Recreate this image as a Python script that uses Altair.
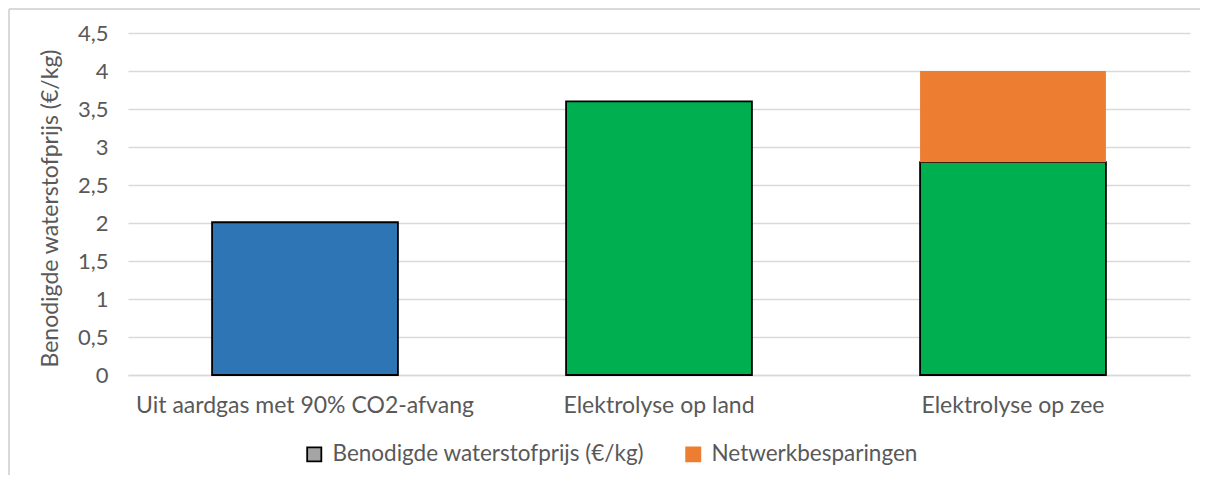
import altair as alt
import pandas as pd

categories = ["Uit aardgas met 90% CO2-afvang", "Elektrolyse op land", "Elektrolyse op zee"]
base_values = [2.01, 3.6, 2.8]
savings_values = [0.0, 0.0, 1.2]
series = ["Benodigde waterstofprijs (€/kg)", "Netwerkbesparingen"]
y_ticks = [0, 0.5, 1, 1.5, 2, 2.5, 3, 3.5, 4, 4.5]

BLUE = "#2e75b6"
GREEN = "#00b050"
ORANGE = "#ed7d31"
GREY_LEG = "#a5a5a5"
TEXT = "#595959"
GRID = "#d9d9d9"
FONT = "Lato"

df = pd.DataFrame({
    "cat": categories,
    "base": base_values,
    "sav": savings_values,
})
df["top"] = df["base"] + df["sav"]
df_sav = df[df["sav"] > 0]
leg = pd.DataFrame({"series": series})

W, H = 1062, 342

x_axis = alt.Axis(title=None, labelFontSize=23, labelColor=TEXT, labelFont=FONT,
                  labelPadding=19, ticks=False, domainColor=GRID, domainWidth=1.5,
                  labelAngle=0, labelLimit=0)
y_axis = alt.Axis(values=y_ticks, title="Benodigde waterstofprijs (€/kg)",
                  labelExpr="replace(format(datum.value, '.1~f'), '.', ',')",
                  labelFontSize=22, labelColor=TEXT, labelFont=FONT,
                  labelPadding=20, ticks=False, domain=False, labelOverlap=False,
                  grid=True, gridColor=GRID, gridWidth=1.5,
                  titleFontSize=23, titleFont=FONT, titleColor=TEXT,
                  titleFontWeight="normal", titlePadding=15, titleY=175)
x_scale = alt.Scale(paddingInner=0.475, paddingOuter=0.2375)
y_scale = alt.Scale(domain=[0, 4.5], nice=False)

base = alt.Chart(df).mark_bar(stroke="black", strokeWidth=1.8).encode(
    x=alt.X("cat:N", sort=categories, scale=x_scale, axis=x_axis),
    y=alt.Y("base:Q", scale=y_scale, axis=y_axis),
    fill=alt.Fill("cat:N", scale=alt.Scale(domain=categories, range=[BLUE, GREEN, GREEN]),
                  legend=None),
)

sav = alt.Chart(df_sav).mark_bar(color=ORANGE).encode(
    x=alt.X("cat:N", sort=categories, scale=x_scale, axis=x_axis),
    y=alt.Y("base:Q", scale=y_scale, axis=y_axis),
    y2="top:Q",
)

legend_kw = dict(orient="none", legendX=175, legendY=410, direction="horizontal",
                 title=None, labelFontSize=22.5, labelColor=TEXT, labelFont=FONT,
                 symbolType="square", symbolSize=200, symbolOpacity=1, labelLimit=0,
                 symbolStrokeWidth=1.8, columnPadding=37, labelOffset=7)

legend_layer = alt.Chart(leg).mark_square(opacity=0).encode(
    color=alt.Color("series:N", scale=alt.Scale(domain=series, range=[GREY_LEG, ORANGE]),
                    legend=alt.Legend(**legend_kw)),
    stroke=alt.Stroke("series:N", scale=alt.Scale(domain=series, range=["black", ORANGE]),
                      legend=alt.Legend(**legend_kw)),
)

frame_top = alt.Chart(df).mark_rule(color=GRID, strokeWidth=2).encode(
    x=alt.value(-119), x2=alt.value(W + 80), y=alt.value(-24))
frame_left = alt.Chart(df).mark_rule(color=GRID, strokeWidth=2).encode(
    x=alt.value(-119), y=alt.value(-24), y2=alt.value(H + 140))

chart = alt.layer(frame_top, frame_left, base, sav, legend_layer).resolve_scale(
    fill="independent"
).properties(
    width=W, height=H, background="white",
    autosize=alt.AutoSizeParams(type="none"),
    padding={"left": 120, "top": 25, "right": 10, "bottom": 100},
).configure_view(stroke=None)

chart.save("out.html", embed_options={"renderer": "svg", "actions": False})
